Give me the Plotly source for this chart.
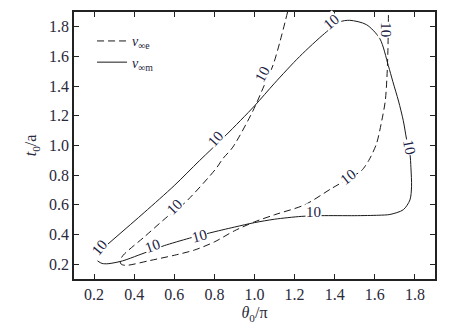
import plotly.graph_objects as go

# v_inf_e (dashed) contour
e_x = [1.165, 1.127, 1.093, 1.05, 0.992, 0.892, 0.842, 0.808, 0.65, 0.567, 0.45, 0.345, 0.33, 0.335, 0.36,
       0.48, 0.6, 0.7, 0.8, 0.9, 1.0, 1.1, 1.25, 1.385, 1.467, 1.533, 1.57, 1.608, 1.635, 1.652, 1.66, 1.665, 1.668]
e_y = [1.9, 1.7, 1.544, 1.41, 1.233, 0.989, 0.911, 0.844, 0.61, 0.522, 0.383, 0.26, 0.225, 0.2, 0.192,
       0.225, 0.26, 0.295, 0.35, 0.425, 0.485, 0.533, 0.6, 0.711, 0.775, 0.83, 0.9, 1.011, 1.17, 1.3, 1.45, 1.63, 1.9]

# v_inf_m (solid) contour
m_x = [0.217, 0.24, 0.27, 0.342, 0.42, 0.5, 0.55, 0.675, 0.775, 0.9, 1.0, 1.1, 1.233, 1.333, 1.5, 1.62, 1.675,
       1.742, 1.775, 1.783, 1.78, 1.775, 1.758, 1.742, 1.718, 1.69, 1.667, 1.625, 1.558, 1.475, 1.425, 1.35,
       1.225, 1.1, 1.0, 0.858, 0.725, 0.6, 0.45, 0.267]
m_y = [0.222, 0.205, 0.203, 0.222, 0.26, 0.3, 0.325, 0.375, 0.41, 0.45, 0.48, 0.503, 0.522, 0.527, 0.527, 0.53,
       0.535, 0.567, 0.633, 0.722, 0.85, 0.944, 1.044, 1.167, 1.3, 1.43, 1.54, 1.72, 1.815, 1.844, 1.833, 1.756,
       1.6, 1.42, 1.267, 1.07, 0.897, 0.73, 0.548, 0.333]

# contour labels
label_text = "10"
label_x = [0.225, 0.49, 0.725, 0.6, 0.805, 1.04, 1.383, 1.658, 1.772, 1.467, 1.295]
label_y = [0.31, 0.325, 0.39, 0.585, 1.045, 1.48, 1.83, 1.78, 0.99, 0.785, 0.55]
label_angle = [-50, -20, -15, -45, -48, -62, -40, 90, 80, -38, 0]

tick_vals = [0.2, 0.4, 0.6, 0.8, 1.0, 1.2, 1.4, 1.6, 1.8]
tick_text = ["0.2", "0.4", "0.6", "0.8", "1.0", "1.2", "1.4", "1.6", "1.8"]

serif = "Liberation Serif, DejaVu Serif, serif"
ink = "#1a1a1a"

fig = go.Figure()
fig.add_trace(go.Scatter(x=e_x, y=e_y, mode="lines", name="<i>v</i><sub>∞e</sub>",
                         line=dict(color=ink, width=1, dash="7px,4px", shape="spline", smoothing=0.8)))
fig.add_trace(go.Scatter(x=m_x, y=m_y, mode="lines", name="<i>v</i><sub>∞m</sub>",
                         line=dict(color=ink, width=1, shape="spline", smoothing=0.8)))

for lx, ly, la in zip(label_x, label_y, label_angle):
    fig.add_annotation(x=lx, y=ly, text=label_text, showarrow=False, textangle=la,
                       font=dict(family=serif, size=15, color="#1c2244"),
                       bgcolor="white", borderpad=0)

axis_common = dict(
    tickvals=tick_vals, ticktext=tick_text, ticks="inside", ticklen=5, tickwidth=1,
    tickcolor="#222", showline=True, linecolor="#222", linewidth=1.5, mirror="ticks",
    showgrid=False, zeroline=False,
    tickfont=dict(family=serif, size=16, color="#2a2a3a"),
)

fig.update_xaxes(range=[0.1, 1.9], title=dict(text="<i>θ</i><sub>0</sub>/π", standoff=5,
                 font=dict(family=serif, size=16, color="#2a2a3a")), **axis_common)
fig.update_yaxes(range=[0.1, 1.9], title=dict(text="<i>t</i><sub>0</sub>/a", standoff=8,
                 font=dict(family=serif, size=16, color="#2a2a3a")), **axis_common)

fig.update_layout(
    width=464, height=329,
    margin=dict(l=74, r=29, t=10, b=49),
    paper_bgcolor="white", plot_bgcolor="white",
    showlegend=True,
    legend=dict(x=0.05, y=0.95, xanchor="left", yanchor="top", bgcolor="rgba(0,0,0,0)",
                font=dict(family=serif, size=14, color="#1c1c3a"), itemwidth=30),
)

fig.write_html("out.html")
